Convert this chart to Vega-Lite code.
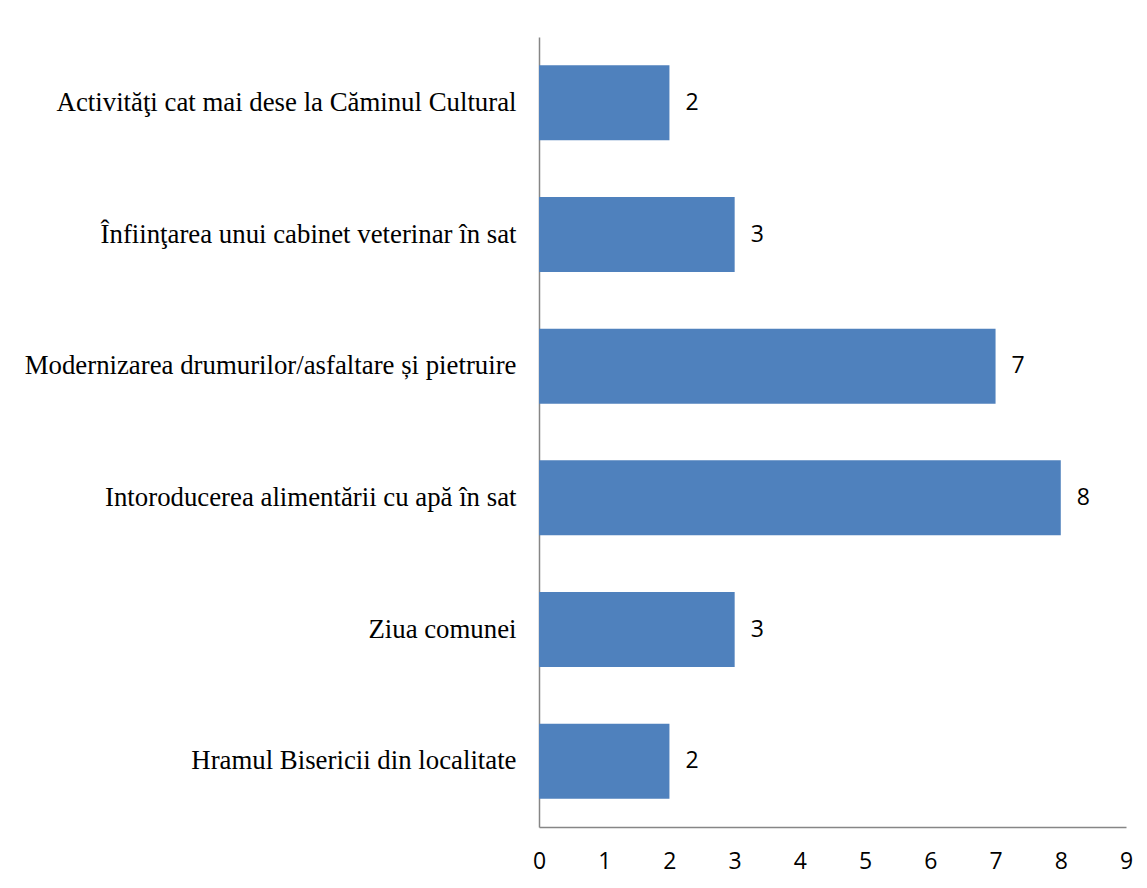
{
  "$schema": "https://vega.github.io/schema/vega-lite/v6.json",
  "autosize": "none",
  "width": 587,
  "height": 790,
  "padding": {"left": 539, "top": 37, "right": 21, "bottom": 61},
  "background": "white",
  "config": {"view": {"stroke": null}},
  "data": {"values": [
    {"category": "Activităţi cat mai dese la Căminul Cultural", "value": 2},
    {"category": "Înfiinţarea unui cabinet veterinar în sat", "value": 3},
    {"category": "Modernizarea drumurilor/asfaltare și pietruire", "value": 7},
    {"category": "Intoroducerea alimentării cu apă în sat", "value": 8},
    {"category": "Ziua comunei ", "value": 3},
    {"category": "Hramul Bisericii din localitate", "value": 2}
  ]},
  "encoding": {
    "y": {
      "field": "category", "type": "nominal", "sort": null,
      "scale": {"paddingInner": 0.43, "paddingOuter": 0.215},
      "axis": {
        "title": null, "ticks": false, "labelPadding": 23, "labelLimit": 600,
        "labelFont": "Liberation Serif", "labelFontSize": 26.8, "labelColor": "#000000",
        "domainColor": "#868686", "domainWidth": 1.5
      }
    },
    "x": {
      "field": "value", "type": "quantitative",
      "scale": {"domain": [0, 9], "nice": false},
      "axis": {
        "title": null, "ticks": false, "grid": false, "values": [0,1,2,3,4,5,6,7,8,9],
        "labelOverlap": false,
        "labelPadding": 23, "labelFont": "Open Sans", "labelFontSize": 23, "labelColor": "#000000",
        "domainColor": "#868686", "domainWidth": 1.5, "labelFlush": false
      }
    }
  },
  "layer": [
    {"mark": {"type": "bar", "color": "#4F81BD"}},
    {"mark": {"type": "text", "align": "left", "dx": 16, "font": "Open Sans", "fontSize": 23, "color": "#000000"},
     "encoding": {"text": {"field": "value", "type": "quantitative"}}}
  ]
}
